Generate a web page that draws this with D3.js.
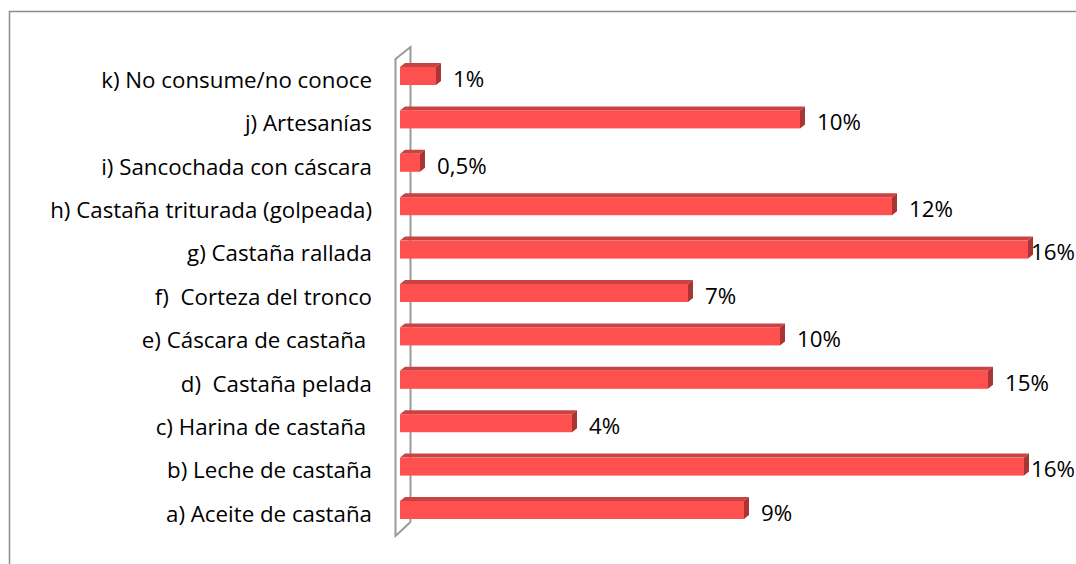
<!DOCTYPE html>
<html>
<head>
<meta charset="utf-8">
<script src="https://cdn.jsdelivr.net/npm/d3@7"></script>
<style>
  body { margin: 0; background: #fff; }
  text { font-family: "Open Sans", "Noto Sans", sans-serif; white-space: pre; }
</style>
</head>
<body>
<svg id="chart"></svg>
<script>
// categories from bottom to top, as drawn
const categories = [
  "a) Aceite de castaña",
  "b) Leche de castaña",
  "c) Harina de castaña ",
  "d)  Castaña pelada",
  "e) Cáscara de castaña ",
  "f)  Corteza del tronco",
  "g) Castaña rallada",
  "h) Castaña triturada (golpeada)",
  "i) Sancochada con cáscara",
  "j) Artesanías",
  "k) No consume/no conoce"
];
const values = [8.6, 15.6, 4.3, 14.7, 9.5, 7.2, 15.7, 12.3, 0.5, 10.0, 0.9];
const valueLabels = ["9%", "16%", "4%", "15%", "10%", "7%", "16%", "12%", "0,5%", "10%", "1%"];

const W = 1076, H = 564;
const depthX = 5, depthY = 4;
const fontSize = 22.3;

const svg = d3.select('#chart')
    .attr('width', W)
    .attr('height', H);

// chart frame
svg.append('rect')
    .attr('x', 9.5).attr('y', 11.5)
    .attr('width', W + 10).attr('height', H + 10)
    .attr('fill', 'none')
    .attr('stroke', '#8c8c8c')
    .attr('stroke-width', 1.5);

const xScale = d3.scaleLinear()
    .domain([0, 16])
    .range([400, 1040]);

const yScale = d3.scaleBand()
    .domain(categories)
    .range([531.7, 54.3])
    .paddingInner(0.585)
    .paddingOuter(0.2925);

// 3D side wall
const wallTop = 47, wallBottom = 522, wallFrontX = 395.5, wallBackX = 410.5;
svg.append('path')
    .attr('d', `M${wallBackX},${wallBottom} L${wallBackX},${wallTop} L${wallFrontX},${wallTop + 12} L${wallFrontX},${wallBottom + 14} L${wallBackX},${wallBottom}`)
    .attr('fill', 'none')
    .attr('stroke', '#9a9a9a')
    .attr('stroke-width', 2);

const bars = svg.append('g').selectAll('g')
    .data(categories.map((c, i) => ({ cat: c, value: values[i], label: valueLabels[i] })))
    .join('g');

const x0 = xScale(0);

// top face
bars.append('path')
    .attr('d', d => {
      const y = yScale(d.cat), x1 = xScale(d.value);
      return `M${x0},${y} L${x0 + depthX},${y - depthY} L${x1 + depthX},${y - depthY} L${x1},${y} Z`;
    })
    .attr('fill', '#c94343');

// side face
bars.append('path')
    .attr('d', d => {
      const y = yScale(d.cat), x1 = xScale(d.value), h = yScale.bandwidth();
      return `M${x1},${y} L${x1 + depthX},${y - depthY} L${x1 + depthX},${y + h - depthY} L${x1},${y + h} Z`;
    })
    .attr('fill', '#a93434');

// front face
bars.append('rect')
    .attr('x', x0)
    .attr('y', d => yScale(d.cat))
    .attr('width', d => xScale(d.value) - x0)
    .attr('height', yScale.bandwidth())
    .attr('fill', '#ff5050');

// value labels
bars.append('text')
    .attr('y', d => yScale(d.cat) + yScale.bandwidth() / 2 + 3)
    .attr('dy', '0.35em')
    .attr('font-size', fontSize)
    .attr('fill', '#000')
    .text(d => d.label)
    .attr('x', function(d) {
      const wdt = this.getComputedTextLength();
      return Math.min(xScale(d.value) + depthX + 12, W - 1 - wdt);
    });

// category labels
svg.append('g').selectAll('text')
    .data(categories)
    .join('text')
    .attr('x', 372)
    .attr('y', d => yScale(d) + yScale.bandwidth() / 2 + 4)
    .attr('dy', '0.35em')
    .attr('text-anchor', 'end')
    .attr('font-size', fontSize)
    .attr('fill', '#000')
    .text(d => d);
</script>
</body>
</html>
